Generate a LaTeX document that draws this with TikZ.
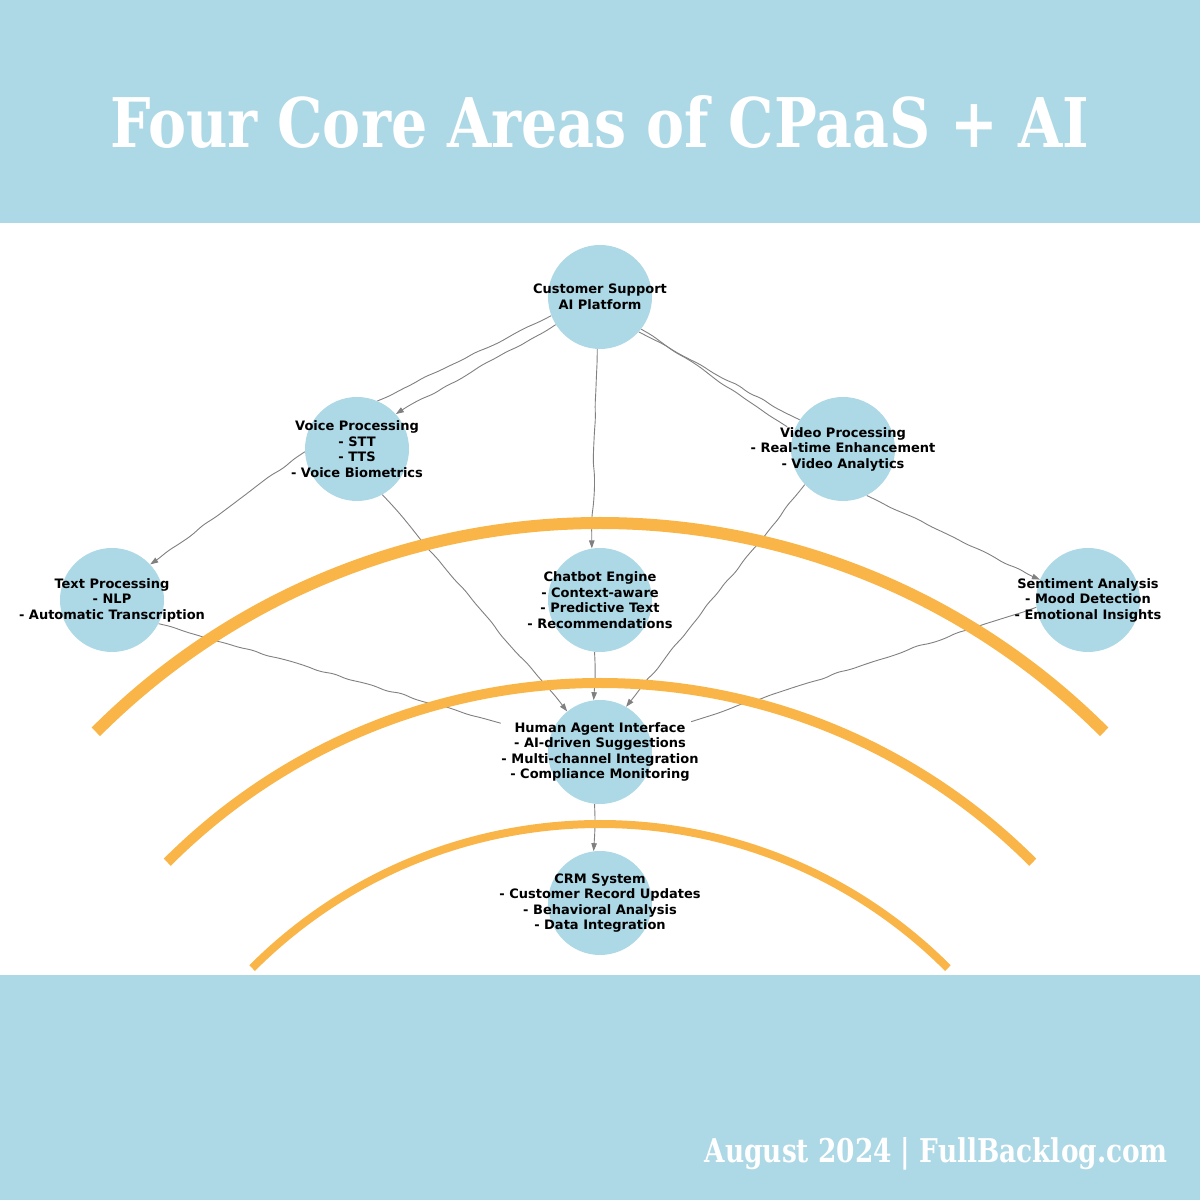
\documentclass[tikz,border=0pt]{standalone}
\usepackage{fontspec}
\usepackage{graphicx}
\usetikzlibrary{arrows.meta,decorations.pathmorphing}
\newfontfamily\labelfont{DejaVu Sans}
\newfontfamily\titlefont{DejaVu Serif}
\definecolor{bandblue}{HTML}{ADD8E6}
\definecolor{ringgold}{HTML}{F9B548}
\definecolor{linkgray}{HTML}{808080}
\pgfdeclarelayer{links}
\pgfdeclarelayer{rings}
\pgfsetlayers{links,rings,main}

\begin{document}
\begin{tikzpicture}[x=1pt,y=1pt,
	hub/.style={circle,fill=bandblue,minimum size=104pt,inner sep=0pt},
	caption/.style={align=center,inner sep=0.5pt,font=\labelfont\bfseries\fontsize{13}{15.5}\selectfont},
	link/.style={draw=linkgray,line width=0.9pt,decorate,
		decoration={random steps,segment length=14pt,amplitude=1.1pt},rounded corners=5pt},
	tip/.style={-{Triangle[length=8pt,width=5.5pt]}},
	ring/.style={draw=ringgold}]
	\useasboundingbox (0,0) rectangle (1200,1200);
	\pgfmathsetseed{7}
	% bands
	\fill[bandblue] (0,977) rectangle (1200,1200);
	\fill[bandblue] (0,0) rectangle (1200,225);
	\node[anchor=base,text=white] (title) at (600,1052)
		{\resizebox{978pt}{52pt}{\titlefont\bfseries Four Core Areas of CPaaS + AI}};
	\node[anchor=base east,text=white,inner sep=0pt] (stamp) at (1168,38)
		{\resizebox{463pt}{25pt}{\titlefont\bfseries August 2024 | FullBacklog.com}};
	% hubs
	\node[hub] (cs) at (600,903) {};
	\node[hub] (voice) at (357,751) {};
	\node[hub] (video) at (843,751) {};
	\node[hub] (txt) at (112,600) {};
	\node[hub] (bot) at (600,600) {};
	\node[hub] (mood) at (1088,600) {};
	\node[hub] (agent) at (600,448) {};
	\node[hub] (crm) at (600,297) {};
	% captions
	\node[caption] (cscap) at (cs) {Customer Support\\AI Platform};
	\node[caption] (voicecap) at (voice) {Voice Processing\\- STT\\- TTS\\- Voice Biometrics};
	\node[caption] (videocap) at (video) {Video Processing\\- Real-time Enhancement\\- Video Analytics};
	\node[caption] (txtcap) at (txt) {Text Processing\\- NLP\\- Automatic Transcription};
	\node[caption] (botcap) at (bot) {Chatbot Engine\\- Context-aware\\- Predictive Text\\- Recommendations};
	\node[caption] (moodcap) at (mood) {Sentiment Analysis\\- Mood Detection\\- Emotional Insights};
	\node[caption] (agentcap) at (agent) {Human Agent Interface\\- AI-driven Suggestions\\- Multi-channel Integration\\- Compliance Monitoring};
	\node[caption] (crmcap) at (crm) {CRM System\\- Customer Record Updates\\- Behavioral Analysis\\- Data Integration};
	% links
	\begin{pgfonlayer}{links}
		\draw[link] (cs.201) -- (voice.67);
		\draw[link,tip] (cs.212) -- (voice.42);
		\draw[link] (cs.318) -- (video.146);
		\draw[link,shorten >=8pt] (cs.322) -- (video.160);
		\draw[link,tip] (cs.267) -- (bot.99);
		\draw[link,tip] (voice.183) -- (txt.43);
		\draw[link,tip] (voice.299) -- (agent.129);
		\draw[link,tip] (video.223) -- (agent.60);
		\draw[link,tip] (video.297) -- (mood.157);
		\draw[link,tip] (bot.264) -- (agent.97);
		\draw[link] (txt.333) -- (agentcap);
		\draw[link] (mood.188) -- (agentcap);
		\draw[link,tip] (agent.264) -- (crm.97);
	\end{pgfonlayer}
	% rings
	\begin{pgfonlayer}{rings}
		\draw[ring,line width=12pt] (600,-36) ++(135:713) arc[start angle=135,end angle=45,radius=713];
		\draw[ring,line width=10pt] (600,-95) ++(135:612) arc[start angle=135,end angle=45,radius=612];
		\draw[ring,line width=8pt] (600,-116) ++(135:492) arc[start angle=135,end angle=45,radius=492];
	\end{pgfonlayer}
\end{tikzpicture}
\end{document}
